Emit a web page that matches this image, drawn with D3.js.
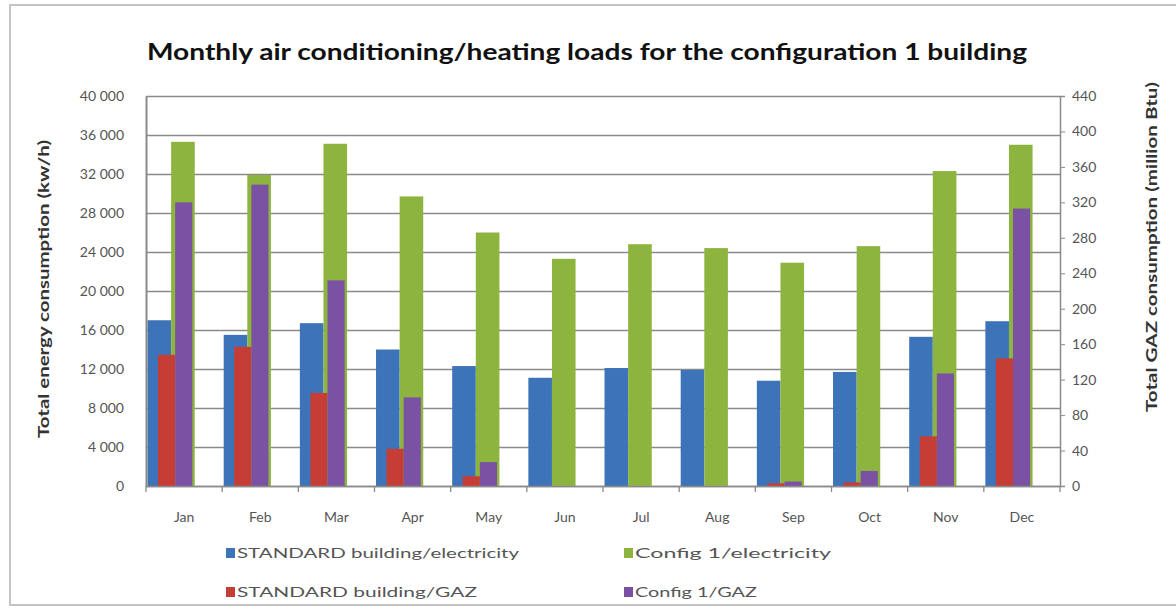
<!DOCTYPE html>
<html>
<head>
<meta charset="utf-8">
<script src="https://cdn.jsdelivr.net/npm/d3@7/dist/d3.min.js"></script>
<style>
  html, body { margin: 0; padding: 0; background: #fff; }
  svg { display: block; font-family: Lato, "Open Sans", sans-serif; }
</style>
</head>
<body>
<svg id="chart" width="1176" height="610"></svg>
<script>
// Monthly loads, standard building vs. configuration 1
const months = ["Jan", "Feb", "Mar", "Apr", "May", "Jun", "Jul", "Aug", "Sep", "Oct", "Nov", "Dec"];
// electricity, kw/h (left axis)
const stdElectricity = [17000, 15500, 16700, 14000, 12300, 11100, 12100, 11900, 10800, 11700, 15300, 16900];
const cfgElectricity = [35300, 31900, 35100, 29700, 26000, 23300, 24800, 24400, 22900, 24600, 32300, 35000];
// gas, million Btu (right axis)
const stdGas = [148, 157, 105, 42, 11, 0, 0, 0, 3, 4, 56, 144];
const cfgGas = [320, 340, 232, 100, 27, 0, 0, 0, 5, 17, 127, 313];

const leftTicks = [0, 4000, 8000, 12000, 16000, 20000, 24000, 28000, 32000, 36000, 40000];
const rightTicks = [0, 40, 80, 120, 160, 200, 240, 280, 320, 360, 400, 440];

const legendItems = [
  { label: "STANDARD building/electricity", color: "#3d73b9" },
  { label: "Config 1/electricity", color: "#8db43f" },
  { label: "STANDARD building/GAZ", color: "#c63d35" },
  { label: "Config 1/GAZ", color: "#7b52a3" }
];

const svg = d3.select("#chart");
const plot = { left: 146, right: 1060, top: 96, bottom: 486 };

// outer frame
svg.append("rect")
  .attr("x", 10).attr("y", 5).attr("width", 1180).attr("height", 600)
  .attr("fill", "#fff").attr("stroke", "#c4c4c4").attr("stroke-width", 2);

const x = d3.scaleBand().domain(months).range([plot.left, plot.right]).padding(0);
const yL = d3.scaleLinear().domain([0, 40000]).range([plot.bottom, plot.top]);
const yR = d3.scaleLinear().domain([0, 440]).range([plot.bottom, plot.top]);

const fmt = d3.formatLocale({ decimal: ".", thousands: " ", grouping: [3], currency: ["", ""] }).format(",");

// gridlines
svg.append("g").selectAll("line").data(leftTicks).join("line")
  .attr("x1", plot.left).attr("x2", plot.right)
  .attr("y1", d => yL(d) + 0.5).attr("y2", d => yL(d) + 0.5)
  .attr("stroke", "#8a8a8a").attr("stroke-width", 1.3);

// bars: electricity series on the primary axis
const bw = x.bandwidth();
const elecW = bw * 0.31;
const gasW = bw * 0.225;

const bars = svg.append("g");
bars.selectAll(".std-elec").data(months).join("rect")
  .attr("x", d => x(d) + bw * 0.02)
  .attr("width", elecW)
  .attr("y", (d, i) => yL(stdElectricity[i]))
  .attr("height", (d, i) => yL(0) - yL(stdElectricity[i]))
  .attr("fill", legendItems[0].color);
bars.selectAll(".cfg-elec").data(months).join("rect")
  .attr("x", d => x(d) + bw * 0.02 + elecW)
  .attr("width", elecW)
  .attr("y", (d, i) => yL(cfgElectricity[i]))
  .attr("height", (d, i) => yL(0) - yL(cfgElectricity[i]))
  .attr("fill", legendItems[1].color);

// gas series on the secondary axis, drawn on top
bars.selectAll(".std-gas").data(months).join("rect")
  .attr("x", d => x(d) + bw * 0.158)
  .attr("width", gasW)
  .attr("y", (d, i) => yR(stdGas[i]))
  .attr("height", (d, i) => yR(0) - yR(stdGas[i]))
  .attr("fill", legendItems[2].color);
bars.selectAll(".cfg-gas").data(months).join("rect")
  .attr("x", d => x(d) + bw * 0.158 + gasW)
  .attr("width", gasW)
  .attr("y", (d, i) => yR(cfgGas[i]))
  .attr("height", (d, i) => yR(0) - yR(cfgGas[i]))
  .attr("fill", legendItems[3].color);

// left axis
const gL = svg.append("g").attr("transform", `translate(${plot.left},0)`)
  .call(d3.axisLeft(yL).tickValues(leftTicks).tickFormat(fmt).tickSize(0).tickPadding(22));
gL.select(".domain").attr("stroke", "#8a8a8a").attr("stroke-width", 2);
gL.selectAll("text").attr("font-family", "Lato, sans-serif").attr("font-size", 14).attr("fill", "#555");

// right axis
const gR = svg.append("g").attr("transform", `translate(${plot.right},0)`)
  .call(d3.axisRight(yR).tickValues(rightTicks).tickSize(5).tickPadding(7));
gR.select(".domain").attr("stroke", "#8a8a8a").attr("stroke-width", 1.5);
gR.selectAll(".tick line").attr("stroke", "#8a8a8a");
gR.selectAll("text").attr("font-family", "Lato, sans-serif").attr("font-size", 14).attr("fill", "#555");

// category axis
const gX = svg.append("g");
gX.append("line")
  .attr("x1", plot.left).attr("x2", plot.right)
  .attr("y1", plot.bottom + 0.5).attr("y2", plot.bottom + 0.5)
  .attr("stroke", "#8a8a8a").attr("stroke-width", 1.5);
gX.selectAll(".xtick").data(months.map(m => x(m)).concat([plot.right])).join("line")
  .attr("x1", d => d).attr("x2", d => d)
  .attr("y1", plot.bottom).attr("y2", plot.bottom + 6)
  .attr("stroke", "#8a8a8a").attr("stroke-width", 1.3);
gX.selectAll("text").data(months).join("text")
  .attr("x", d => x(d) + bw / 2).attr("y", 522)
  .attr("text-anchor", "middle")
  .attr("font-size", 14).attr("fill", "#555")
  .text(d => d);

// title
svg.append("text")
  .attr("x", 587).attr("y", 60)
  .attr("text-anchor", "middle")
  .attr("font-size", 22).attr("font-weight", "bold").attr("fill", "#111")
  .attr("textLength", 880).attr("lengthAdjust", "spacingAndGlyphs")
  .text("Monthly air conditioning/heating loads for the configuration 1 building");

// axis titles
svg.append("text")
  .attr("transform", "translate(49,289) rotate(-90)")
  .attr("text-anchor", "middle")
  .attr("font-size", 15).attr("font-weight", "bold").attr("fill", "#333")
  .attr("textLength", 298).attr("lengthAdjust", "spacingAndGlyphs")
  .text("Total energy consumption (kw/h)");
svg.append("text")
  .attr("transform", "translate(1157,247) rotate(-90)")
  .attr("text-anchor", "middle")
  .attr("font-size", 15).attr("font-weight", "bold").attr("fill", "#333")
  .attr("textLength", 330).attr("lengthAdjust", "spacingAndGlyphs")
  .text("Total GAZ consumption (million Btu)");

// legend
const legendPos = [
  { x: 226, y: 553, w: 282 },
  { x: 624, y: 553, w: 196 },
  { x: 226, y: 592, w: 240 },
  { x: 624, y: 592, w: 122 }
];
const lg = svg.append("g").selectAll("g").data(legendItems).join("g")
  .attr("transform", (d, i) => `translate(${legendPos[i].x},${legendPos[i].y})`);
lg.append("rect").attr("x", 0).attr("y", -5).attr("width", 9).attr("height", 10)
  .attr("fill", d => d.color);
lg.append("text").attr("x", 11).attr("y", 5)
  .attr("font-size", 14).attr("fill", "#555")
  .attr("textLength", (d, i) => legendPos[i].w)
  .attr("lengthAdjust", "spacingAndGlyphs")
  .text(d => d.label);
</script>
</body>
</html>
